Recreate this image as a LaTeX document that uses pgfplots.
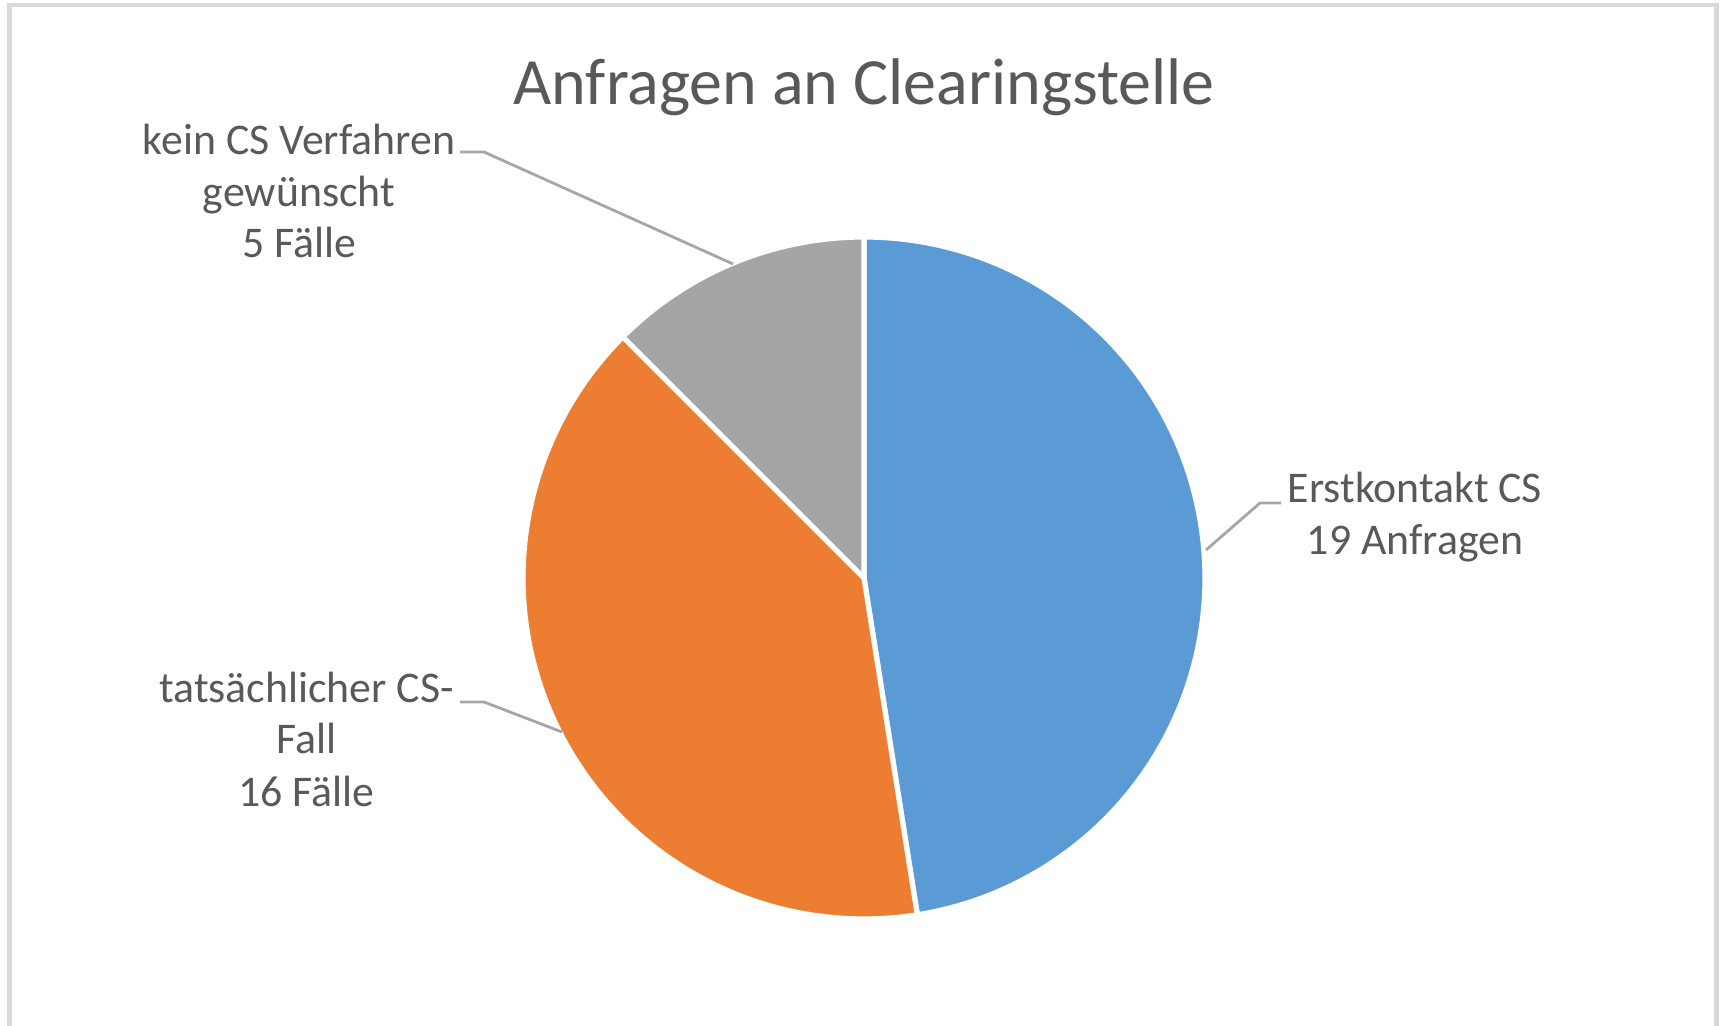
\documentclass[border=0pt]{standalone}
\usepackage{fontspec}
\setmainfont{Carlito}
\usepackage{pgfplots}
\usepackage{pgfplotstable}
\pgfplotsset{compat=1.18}
\definecolor{cblue}{HTML}{5B9BD5}
\definecolor{corange}{HTML}{ED7D31}
\definecolor{cgray}{HTML}{A5A5A5}
\definecolor{txt}{HTML}{595959}
\definecolor{lead}{HTML}{A6A6A6}
\definecolor{frame}{HTML}{D9D9D9}
\tikzset{lbl/.style={font=\fontsize{10.95}{13}\selectfont, text=txt, anchor=base, inner sep=0pt}}
\pgfplotstableread{
label value
Erstkontakt 19
tatsaechlich 16
kein 5
}\piedata
\pgfplotstablegetelem{0}{value}\of\piedata \let\va\pgfplotsretval
\pgfplotstablegetelem{1}{value}\of\piedata \let\vb\pgfplotsretval
\pgfplotstablegetelem{2}{value}\of\piedata \let\vc\pgfplotsretval
\pgfmathsetmacro\tot{\va+\vb+\vc}
\pgfmathsetmacro\aA{90}
\pgfmathsetmacro\aB{90-360*\va/\tot}
\pgfmathsetmacro\aC{\aB-360*\vb/\tot}
\pgfmathsetmacro\aD{\aC-360*\vc/\tot}
\def\cx{864}\def\cy{448}\def\rr{341}
\begin{document}
\begin{tikzpicture}
\useasboundingbox (0,0) rectangle (431.25pt,256.5pt);
\begin{axis}[at={(0,0)}, anchor=south west, scale only axis,
  width=431.25pt, height=256.5pt,
  xmin=0, xmax=1725, ymin=0, ymax=1026,
  axis lines=none, clip=false]
% frame
\draw[frame, line width=1.1pt] (9.5,-10) -- (9.5,1021) -- (1716.5,1021) -- (1716.5,-10);
% slices
\addplot[fill=cblue, draw=white, line width=1.3pt, line join=round, mark=none, domain=\aB:\aA, samples=150]
  ({\cx+\rr*cos(x)},{\cy+\rr*sin(x)}) -- (\cx,\cy) -- cycle;
\addplot[fill=corange, draw=white, line width=1.3pt, line join=round, mark=none, domain=\aC:\aB, samples=150]
  ({\cx+\rr*cos(x)},{\cy+\rr*sin(x)}) -- (\cx,\cy) -- cycle;
\addplot[fill=cgray, draw=white, line width=1.3pt, line join=round, mark=none, domain=\aD:\aC, samples=80]
  ({\cx+\rr*cos(x)},{\cy+\rr*sin(x)}) -- (\cx,\cy) -- cycle;
% leader lines
\draw[lead, line width=0.7pt] (1206,476) -- (1260,523) -- (1281,523);
\draw[lead, line width=0.7pt] (733,762) -- (484,874) -- (460,874);
\draw[lead, line width=0.7pt] (562,294) -- (484,324) -- (460,324);
% title
\node[font=\fontsize{16.5}{19}\selectfont, text=txt, anchor=base, inner sep=0pt] at (864,921) {Anfragen an Clearingstelle};
% labels
\node[lbl] at (1415,523) {Erstkontakt CS};
\node[lbl] at (1415,471) {19 Anfragen};
\node[lbl] at (299,871) {kein CS Verfahren};
\node[lbl] at (299,819) {gewünscht};
\node[lbl] at (299,768) {5 Fälle};
\node[lbl] at (306.5,323) {tatsächlicher CS-};
\node[lbl] at (306.5,272) {Fall};
\node[lbl] at (306.5,219) {16 Fälle};
\end{axis}
\end{tikzpicture}
\end{document}
